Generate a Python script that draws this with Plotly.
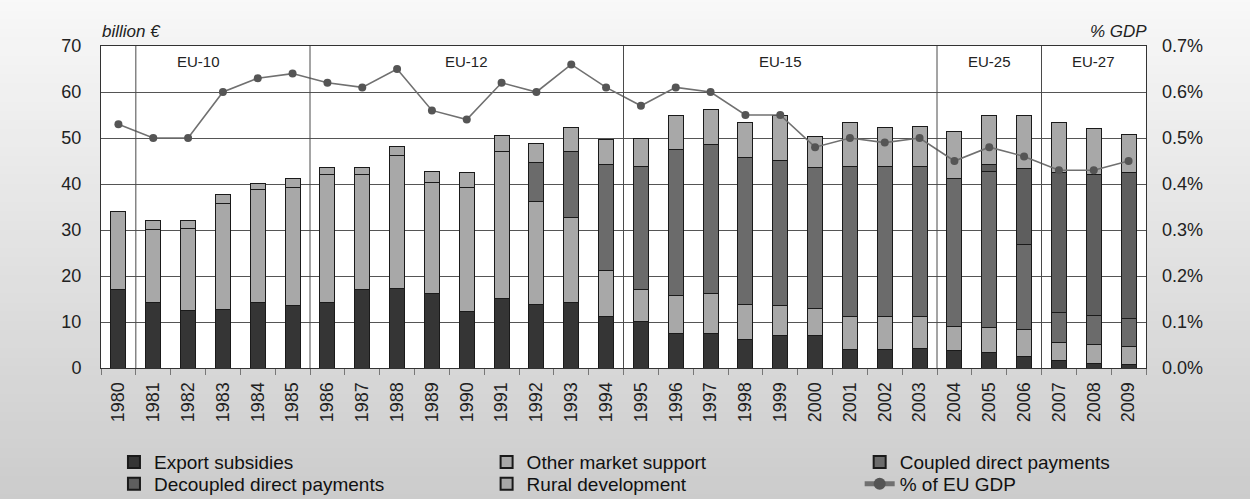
import plotly.graph_objects as go

years = [str(y) for y in range(1980, 2010)]

export_subsidies = [17.0, 14.2, 12.5, 12.7, 14.2, 13.5, 14.2, 17.1, 17.3, 16.1,
                    12.2, 15.1, 13.7, 14.2, 11.2, 10.1, 7.5, 7.5, 6.1, 7.0,
                    7.0, 4.1, 4.1, 4.3, 3.8, 3.3, 2.5, 1.6, 1.0, 0.8]
other_market_support = [17.0, 15.9, 17.9, 23.1, 24.5, 25.8, 27.8, 24.9, 28.9, 24.3,
                        27.0, 31.9, 22.5, 18.5, 10.0, 7.0, 8.3, 8.8, 7.7, 6.5,
                        6.0, 7.2, 7.2, 6.9, 5.2, 5.5, 5.8, 3.9, 4.2, 3.8]
coupled_direct = [None] * 12 + [8.4, 14.3, 23.1, 26.8, 31.8, 32.3, 31.9, 31.6,
                                30.6, 32.6, 32.6, 32.7, 32.1, 33.9, 18.5, 6.6, 6.2, 6.2]
decoupled_direct = [None] * 25 + [1.6, 16.5, 30.4, 30.6, 31.7]
rural_development = [None, 1.9, 1.6, 1.9, 1.5, 1.8, 1.6, 1.6, 1.9, 2.4,
                     3.2, 3.5, 4.2, 5.3, 5.3, 6.0, 7.3, 7.6, 7.6, 9.8,
                     6.7, 9.4, 8.4, 8.6, 10.4, 10.6, 11.6, 10.8, 10.0, 8.3]
gdp_share = [0.53, 0.50, 0.50, 0.60, 0.63, 0.64, 0.62, 0.61, 0.65, 0.56,
             0.54, 0.62, 0.60, 0.66, 0.61, 0.57, 0.61, 0.60, 0.55, 0.55,
             0.48, 0.50, 0.49, 0.50, 0.45, 0.48, 0.46, 0.43, 0.43, 0.45]

# enlargement periods: label, first year, last year
periods = [("EU-10", "1981", "1985"), ("EU-12", "1986", "1994"),
           ("EU-15", "1995", "2003"), ("EU-25", "2004", "2006"),
           ("EU-27", "2007", "2009")]
label_shift = {"EU-10": -24}

FONT = "Liberation Sans, Arial, sans-serif"
OUT = "#1a1a1a"

# legend grid: (column x in paper units, row y in paper units)
legend_cols = [0.0124, 0.369, 0.726]
legend_rows = [-0.233, -0.301]

fig = go.Figure()
series = [
    ("Export subsidies", export_subsidies, "#353535", "legend", (0, 0)),
    ("Other market support", other_market_support, "#a8a8a8", "legend2", (1, 0)),
    ("Coupled direct payments", coupled_direct, "#6b6b6b", "legend3", (2, 0)),
    ("Decoupled direct payments", decoupled_direct, "#5e5e5e", "legend4", (0, 1)),
    ("Rural development", rural_development, "#a8a8a8", "legend5", (1, 1)),
]
legend_layout = {}
legend_common = dict(orientation="v", yanchor="top", xanchor="left",
                     bgcolor="rgba(0,0,0,0)",
                     font=dict(family=FONT, size=19, color="#111111"),
                     itemsizing="constant")
for name, vals, col, lg, (c, r) in series:
    fig.add_trace(go.Bar(x=years, y=vals, name=name, legend=lg,
                         marker=dict(color=col, line=dict(color=OUT, width=1))))
    legend_layout[lg] = dict(legend_common, x=legend_cols[c], y=legend_rows[r])

fig.add_trace(go.Scatter(x=years, y=gdp_share, name="% of EU GDP", yaxis="y2",
                         legend="legend6", mode="lines+markers",
                         line=dict(color="#707070", width=1.6),
                         marker=dict(color="#555555", size=8)))
legend_layout["legend6"] = dict(legend_common, x=legend_cols[2], y=legend_rows[1])

# background gradient (paper) built from strips
shapes = []
n = 60
top, bot = 251, 203
for i in range(n):
    t = i / (n - 1)
    g = int(round(top + (bot - top) * t))
    y1 = 1.25 - (1.25 + 0.45) * i / n
    y0 = 1.25 - (1.25 + 0.45) * (i + 1) / n
    shapes.append(dict(type="rect", xref="paper", yref="paper",
                       x0=-0.2, x1=1.3, y0=y0 - 0.002, y1=y1 + 0.002,
                       fillcolor=f"rgb({g},{g},{g})", line=dict(width=0),
                       layer="below"))
shapes.append(dict(type="rect", xref="paper", yref="paper", x0=0, x1=1, y0=0, y1=1,
                   fillcolor="white", line=dict(width=0), layer="below"))

annotations = []
for label, first, last in periods:
    i0 = years.index(first)
    i1 = years.index(last)
    shapes.append(dict(type="line", xref="x", yref="paper", x0=i0 - 0.5, x1=i0 - 0.5,
                       y0=0, y1=1, line=dict(color="#4a4a4a", width=1)))
    annotations.append(dict(x=(i0 + i1) / 2, y=1, xref="x", yref="paper",
                            yanchor="top", yshift=-5, xshift=label_shift.get(label, 0),
                            text=label, showarrow=False,
                            font=dict(family=FONT, size=15, color="#222222")))

annotations.append(dict(x=-0.001, y=1.0, xref="paper", yref="paper", xanchor="left",
                        yanchor="bottom", yshift=3, text="<i>billion €</i>",
                        showarrow=False, font=dict(family=FONT, size=17, color="#222222")))
annotations.append(dict(x=1.003, y=1.0, xref="paper", yref="paper", xanchor="right",
                        yanchor="bottom", yshift=3, text="<i>% GDP</i>",
                        showarrow=False, font=dict(family=FONT, size=17, color="#222222")))

fig.update_layout(
    width=1250, height=499,
    margin=dict(l=101, r=104, t=46, b=131, autoexpand=False),
    barmode="stack", bargap=0.57,
    paper_bgcolor="#e6e6e6", plot_bgcolor="white",
    font=dict(family=FONT, color="#222222"),
    shapes=shapes, annotations=annotations,
    xaxis=dict(type="category", range=[-0.5, len(years) - 0.5], tickangle=-90,
               tickfont=dict(size=18), ticklabelstandoff=6,
               ticks="outside", tickson="boundaries", ticklen=6, tickcolor="#777777",
               showline=True, linecolor="#333333", linewidth=1, mirror=True,
               showgrid=False),
    yaxis=dict(range=[0, 70], dtick=10, tickfont=dict(size=18), ticklabelstandoff=15,
               showgrid=True, gridcolor="#555555", gridwidth=1,
               showline=True, linecolor="#333333", linewidth=1, mirror=True,
               ticks="", zeroline=False),
    yaxis2=dict(overlaying="y", side="right", range=[0, 0.7], dtick=0.1,
                tickformat=".1f", ticksuffix="%", tickfont=dict(size=18),
                ticklabelstandoff=15, showgrid=False, zeroline=False, ticks=""),
    showlegend=True,
    **legend_layout,
)

fig.write_html("out.html")
